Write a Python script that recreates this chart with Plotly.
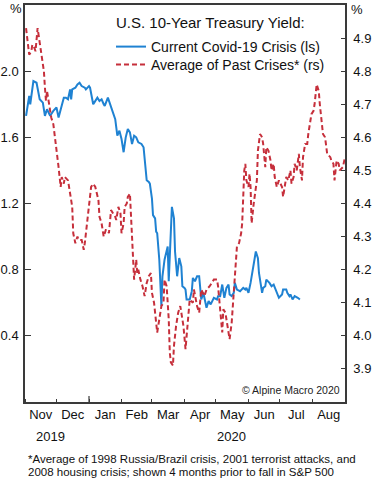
import pandas as pd
import plotly.graph_objects as go

# ---- data ----
start_date = "2019-11-01"

# Current Covid-19 crisis: days after 2019-11-01, 10-yr yield (%) (left scale)
covid_days = [1, 4, 5, 8, 11, 14, 17, 19, 21, 24, 27, 30, 32, 35, 37, 39, 41, 43, 44, 45,
              48, 50, 52, 54, 57, 58, 61, 62, 65, 66, 69, 71, 73, 75, 76, 79, 82, 86, 88, 90,
              92, 94, 96, 98, 100, 102, 104, 106, 108, 111, 113, 114, 116, 118, 119, 121, 122, 124, 125, 126,
              128, 130, 131, 133, 136, 137, 139, 140, 142, 143, 145, 147, 149, 150, 152, 153, 154, 157, 159, 160,
              162, 164, 166, 168, 170, 172, 173, 175, 177, 180, 183, 184, 186, 188, 190, 192, 194, 195, 197, 199,
              200, 202, 205, 208, 210, 211, 213, 215, 218, 220, 222, 223, 226, 227, 229, 230, 233, 235, 237, 240,
              242, 245, 246, 249, 250, 252, 253, 255, 257, 260, 262]
covid_yield = [1.73, 1.85, 1.80, 1.94, 1.93, 1.83, 1.81, 1.73, 1.77, 1.73, 1.76, 1.78, 1.72, 1.79, 1.84, 1.84, 1.83, 1.89, 1.83, 1.89,
               1.90, 1.92, 1.93, 1.91, 1.90, 1.89, 1.91, 1.90, 1.80, 1.81, 1.84, 1.82, 1.83, 1.80, 1.79, 1.84, 1.78, 1.71, 1.61, 1.64,
               1.59, 1.51, 1.60, 1.65, 1.63, 1.56, 1.61, 1.60, 1.57, 1.56, 1.54, 1.47, 1.34, 1.33, 1.32, 1.23, 1.13, 1.11, 1.03, 1.02,
               0.86, 0.58, 0.76, 0.86, 0.94, 0.73, 1.04, 1.18, 1.11, 0.91, 0.76, 0.87, 0.82, 0.70, 0.69, 0.68, 0.62, 0.62, 0.67, 0.75,
               0.73, 0.76, 0.76, 0.62, 0.66, 0.61, 0.57, 0.61, 0.59, 0.63, 0.62, 0.64, 0.64, 0.71, 0.63, 0.69, 0.71, 0.65, 0.64, 0.66,
               0.72, 0.68, 0.67, 0.69, 0.68, 0.69, 0.66, 0.72, 0.82, 0.91, 0.87, 0.78, 0.66, 0.69, 0.70, 0.74, 0.72, 0.70, 0.71, 0.66,
               0.63, 0.65, 0.68, 0.68, 0.66, 0.64, 0.65, 0.62, 0.64, 0.63, 0.62]

# Average of past crises: days after 2019-11-01, 10-yr yield (%) (right scale)
past_days = [1, 3, 4, 6, 7, 9, 10, 12, 14, 16, 18, 19, 20, 21, 22, 23, 25, 27, 29, 31,
             32, 34, 35, 37, 38, 41, 43, 45, 46, 48, 50, 51, 54, 56, 57, 59, 61, 63, 65, 67,
             70, 71, 73, 75, 77, 79, 80, 82, 84, 86, 87, 89, 91, 92, 94, 95, 97, 98, 100, 101,
             102, 104, 106, 107, 108, 110, 112, 114, 116, 118, 120, 121, 123, 126, 127, 129, 130, 132, 133, 135,
             137, 138, 139, 141, 142, 144, 146, 148, 149, 151, 153, 154, 156, 157, 160, 161, 164, 166, 168, 171,
             173, 176, 178, 180, 183, 184, 186, 188, 189, 191, 193, 194, 195, 197, 199, 200, 202, 204, 206, 207,
             208, 209, 210, 211, 213, 214, 215, 216, 218, 219, 221, 222, 224, 226, 227, 229, 230, 232, 234, 235,
             237, 238, 240, 242, 245, 246, 248, 249, 251, 253, 254, 256, 257, 259, 261, 262, 264, 265, 267, 269,
             270, 272, 273, 275, 276, 278, 280, 281, 283, 284, 286, 288, 291, 292, 294, 295, 297, 299, 300, 303,
             305]
past_yield = [4.93, 4.88, 4.85, 4.86, 4.88, 4.87, 4.86, 4.93, 4.89, 4.84, 4.80, 4.75, 4.71, 4.74, 4.72, 4.69, 4.66, 4.64, 4.59, 4.55,
              4.51, 4.45, 4.48, 4.46, 4.48, 4.47, 4.43, 4.39, 4.31, 4.28, 4.30, 4.29, 4.29, 4.26, 4.28, 4.34, 4.41, 4.45, 4.46, 4.45,
              4.41, 4.36, 4.34, 4.30, 4.32, 4.32, 4.31, 4.38, 4.37, 4.36, 4.35, 4.39, 4.37, 4.31, 4.34, 4.39, 4.40, 4.42, 4.43, 4.35,
              4.30, 4.17, 4.23, 4.19, 4.20, 4.17, 4.15, 4.12, 4.16, 4.18, 4.19, 4.13, 4.10, 4.01, 4.03, 4.06, 4.09, 4.10, 4.17, 4.15,
              4.05, 3.95, 3.92, 3.91, 3.97, 4.03, 4.07, 4.09, 4.07, 4.03, 3.96, 4.00, 4.07, 4.11, 4.10, 4.14, 4.09, 4.07, 4.14, 4.12,
              4.14, 4.15, 4.16, 4.17, 4.17, 4.15, 4.08, 4.01, 4.08, 4.07, 4.03, 4.01, 3.99, 4.04, 4.14, 4.20, 4.27, 4.28, 4.31, 4.34,
              4.43, 4.50, 4.52, 4.47, 4.45, 4.49, 4.45, 4.34, 4.40, 4.42, 4.47, 4.56, 4.61, 4.60, 4.58, 4.51, 4.57, 4.56, 4.53, 4.50,
              4.52, 4.48, 4.45, 4.47, 4.45, 4.42, 4.46, 4.48, 4.47, 4.50, 4.46, 4.48, 4.52, 4.50, 4.55, 4.51, 4.47, 4.54, 4.58, 4.58,
              4.61, 4.65, 4.67, 4.68, 4.70, 4.76, 4.74, 4.70, 4.65, 4.61, 4.60, 4.55, 4.54, 4.53, 4.52, 4.47, 4.53, 4.52, 4.50, 4.51,
              4.54]

left_ticks = [0.4, 0.8, 1.2, 1.6, 2.0]
right_ticks = [3.9, 4.0, 4.1, 4.2, 4.3, 4.4, 4.5, 4.6, 4.7, 4.8, 4.9]
left_range = [0, 2.4]
right_range = [3.8, 5.0]
x_range = ["2019-11-01", "2020-09-01"]

series_names = ["Current Covid-19 Crisis (ls)", "Average of Past Crises* (rs)"]
title_text = "U.S. 10-Year Treasury Yield:"
year_labels = [("2019", "2019-11-25"), ("2020", "2020-05-16")]
footnote_lines = ["*Average of 1998 Russia/Brazil crisis, 2001 terrorist attacks, and",
                  "2008 housing crisis; shown 4 months prior to fall in S&P 500"]
credit_text = "© Alpine Macro 2020"

# ---- build ----
t0 = pd.Timestamp(start_date)
covid_dates = t0 + pd.to_timedelta(covid_days, unit="D")
past_dates = t0 + pd.to_timedelta(past_days, unit="D")

FONT = "Liberation Sans, Arial, sans-serif"
AX = "#3a3a3a"
BLUE = "#1f82d2"
RED = "#c62f3b"

fig = go.Figure()
fig.add_trace(go.Scatter(x=covid_dates, y=covid_yield, mode="lines", name=series_names[0],
                         line=dict(color=BLUE, width=2), yaxis="y", legend="legend"))
fig.add_trace(go.Scatter(x=past_dates, y=past_yield, mode="lines", name=series_names[1],
                         line=dict(color=RED, width=2, dash="5px,3px"), yaxis="y2", legend="legend2"))

W, H = 379, 480
ml, mr, mt, mb = 25, 34, 5, 78
pw, ph = W - ml - mr, H - mt - mb


def px_x(x):
    return (x - ml) / pw


def px_y(y):
    return 1 - (y - mt) / ph


legend_style = dict(xanchor="left", yanchor="top", bgcolor="rgba(0,0,0,0)",
                    font=dict(size=14, color="#111111"), itemwidth=30, tracegroupgap=0)

fig.update_layout(
    width=W, height=H,
    margin=dict(l=ml, r=mr, t=mt, b=mb, pad=0, autoexpand=False),
    paper_bgcolor="white", plot_bgcolor="white",
    font=dict(family=FONT, size=13, color="#111111"),
    showlegend=True,
    legend=dict(x=px_x(111), y=px_y(31), **legend_style),
    legend2=dict(x=px_x(111), y=px_y(49), **legend_style),
    xaxis=dict(type="date", range=x_range, showgrid=False, zeroline=False, automargin=False,
               showline=True, linecolor=AX, linewidth=1.5, mirror=True,
               ticks="inside", ticklen=3, tickcolor=AX, tickwidth=1,
               dtick="M1", tick0="2019-11-01", tickformat="%b", ticklabelmode="period",
               tickfont=dict(size=13, color="#111111"), ticklabelstandoff=0),
    yaxis=dict(range=left_range, tickvals=left_ticks, ticktext=[f"{v:.1f}" for v in left_ticks],
               showgrid=False, zeroline=False, showline=True, linecolor=AX, linewidth=1.5,
               automargin=False,
               ticks="inside", ticklen=6, tickcolor=AX, tickwidth=1,
               tickfont=dict(size=13, color="#111111"), ticklabelstandoff=2),
    yaxis2=dict(range=right_range, tickvals=right_ticks, ticktext=[f"{v:.1f}" for v in right_ticks],
                overlaying="y", side="right", showgrid=False, zeroline=False,
                showline=True, linecolor=AX, linewidth=1.5, automargin=False,
                ticks="inside", ticklen=4, tickcolor=AX, tickwidth=1,
                tickfont=dict(size=13, color="#111111"), ticklabelstandoff=4),
)

# longer tick at the year boundary
fig.add_shape(type="line", xref="x", yref="paper", x0="2020-01-01", x1="2020-01-01",
              y0=0, y1=6 / ph, line=dict(color=AX, width=1.2))

ann = []
ann.append(dict(text=title_text, xref="paper", yref="paper", x=px_x(114), y=px_y(22),
                xanchor="left", yanchor="middle", showarrow=False, font=dict(size=15, color="#111111")))
ann.append(dict(text="%", xref="paper", yref="paper", x=px_x(15.5), y=px_y(9),
                xanchor="center", yanchor="middle", showarrow=False, font=dict(size=13, color="#111111")))
ann.append(dict(text="%", xref="paper", yref="paper", x=px_x(357), y=px_y(10),
                xanchor="center", yanchor="middle", showarrow=False, font=dict(size=13, color="#111111")))
ann.append(dict(text=credit_text, xref="paper", yref="paper", x=px_x(342), y=px_y(390),
                xanchor="right", yanchor="middle", showarrow=False, font=dict(size=10.5, color="#222222")))
for label, pos in year_labels:
    ann.append(dict(text=label, xref="x", yref="paper", x=pos, y=px_y(436),
                    xanchor="center", yanchor="middle", showarrow=False, font=dict(size=13)))
for i, line in enumerate(footnote_lines):
    ann.append(dict(text=line, xref="paper", yref="paper", x=px_x(26), y=px_y(459 + 13 * i),
                    xanchor="left", yanchor="middle", showarrow=False, font=dict(size=11.5, color="#111111")))
fig.update_layout(annotations=ann)

fig.write_html("out.html", config={"displayModeBar": False},
               post_script="document.body.style.margin='0';document.body.style.overflow='hidden';")
